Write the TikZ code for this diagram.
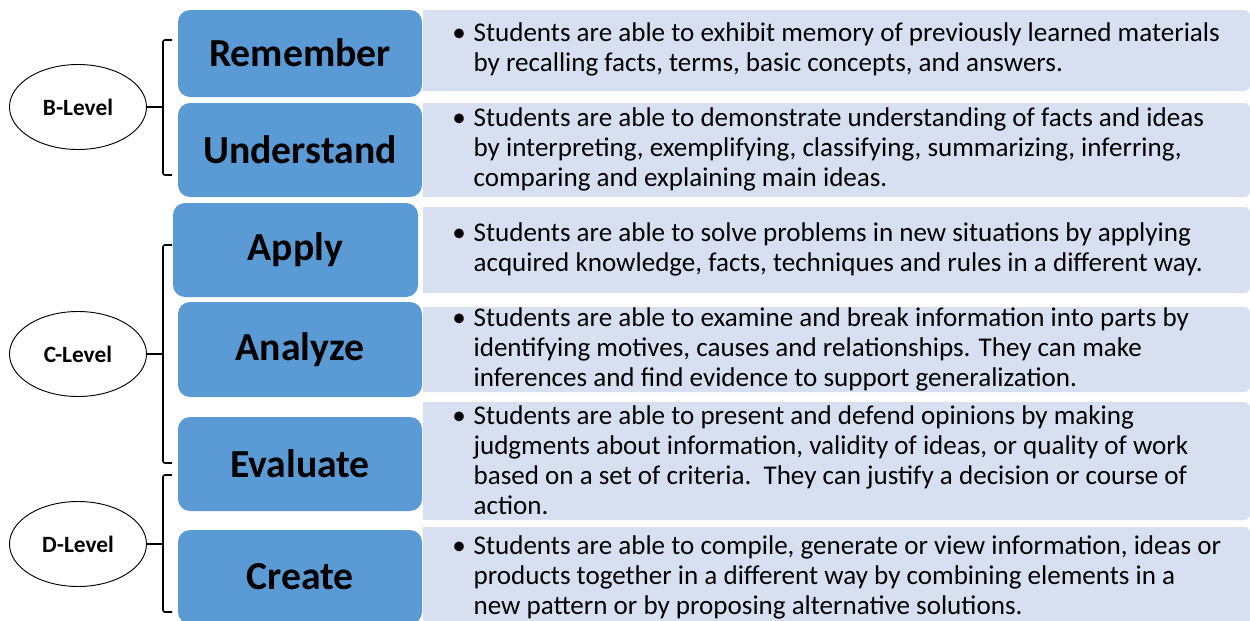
\documentclass[tikz,border=0pt]{standalone}
\usepackage{fontspec}
\setmainfont{Carlito}
\usetikzlibrary{shapes.geometric}
\definecolor{bluebox}{HTML}{5B9BD5}
\definecolor{palebox}{HTML}{D6E0F0}
\newcommand{\bulletline}{\makebox[16pt][l]{\textbullet}}
\tikzset{
  levelbox/.style={rectangle, rounded corners=9pt, fill=bluebox, inner sep=0pt,
    minimum width=183pt, font=\fontsize{29.8}{32}\selectfont\bfseries, text=black},
  descbox/.style={rectangle, rounded corners=4.5pt, fill=palebox, inner sep=0pt,
    minimum width=620.25pt},
  desctext/.style={anchor=west, inner sep=0pt, align=left,
    font=\fontsize{20.3}{22.5}\selectfont, text=black},
  levelell/.style={ellipse, draw=black, line width=0.7pt, fill=white, inner sep=0pt,
    minimum width=102.75pt, minimum height=63.75pt,
    font=\fontsize{17.5}{20}\selectfont\bfseries},
  brace/.style={draw=black, line width=1.2pt, rounded corners=1.5pt},
}
\begin{document}
\begin{tikzpicture}[x=0.75pt, y=-0.75pt]
\useasboundingbox (0,0) rectangle (1250,621);
\clip (0,0) rectangle (1250,621);
\fill[white] (0,0) rectangle (1250,621);

% pale description boxes
\node[descbox, minimum height=60.75pt] (d1) at (836.5,50.5) {};
\node[descbox, minimum height=70.5pt]  (d2) at (836.5,150) {};
\node[descbox, minimum height=64.5pt]  (d3) at (836.5,250) {};
\node[descbox, minimum height=63.75pt] (d4) at (836.5,349.5) {};
\node[descbox, minimum height=88.5pt]  (d5) at (836.5,461) {};
\node[descbox, minimum height=75.75pt] (d6) at (836.5,577.5) {};
\foreach \d in {d1,d2,d3,d4,d5,d6}{
  \fill[palebox] (\d.north west) rectangle ([xshift=10pt]\d.south west);
}

% blue level boxes
\node[levelbox, minimum height=65.25pt] (rem) at (300,53.5) {\raisebox{2pt}{Remember}};
\node[levelbox, minimum height=70.5pt]  (und) at (300,150) {Understand};
\node[levelbox, minimum height=70.5pt, minimum width=183.75pt] (app) at (295.5,250) {Apply};
\node[levelbox, minimum height=71.25pt] (ana) at (300,349.5) {Analyze};
\node[levelbox, minimum height=70.5pt]  (eva) at (300,464) {Evaluate};
\node[levelbox, minimum height=70.5pt]  (cre) at (300,577) {Create};

% descriptions
\node[desctext] (t1) at (452,50.5) {\begin{tabular}{@{}l@{}l@{}}
\bulletline & Students are able to exhibit memory of previously learned materials\\
 & by recalling facts, terms, basic concepts, and answers.
\end{tabular}};
\node[desctext] (t2) at (452,150.5) {\begin{tabular}{@{}l@{}l@{}}
\bulletline & Students are able to demonstrate understanding of facts and ideas\\
 & by interpreting, exemplifying, classifying, summarizing, inferring,\\
 & comparing and explaining main ideas.
\end{tabular}};
\node[desctext] (t3) at (452,250.5) {\begin{tabular}{@{}l@{}l@{}}
\bulletline & Students are able to solve problems in new situations by applying\\
 & acquired knowledge, facts, techniques and rules in a different way.
\end{tabular}};
\node[desctext] (t4) at (452,350) {\begin{tabular}{@{}l@{}l@{}}
\bulletline & Students are able to examine and break information into parts by\\
 & identifying motives, causes and relationships. They can make\\
 & inferences and find evidence to support generalization.
\end{tabular}};
\node[desctext] (t5) at (452,463.5) {\begin{tabular}{@{}l@{}l@{}}
\bulletline & Students are able to present and defend opinions by making\\
 & judgments about information, validity of ideas, or quality of work\\
 & based on a set of criteria.\ \ They can justify a decision or course of\\
 & action.
\end{tabular}};
\node[desctext] (t6) at (452,578) {\begin{tabular}{@{}l@{}l@{}}
\bulletline & Students are able to compile, generate or view information, ideas or\\
 & products together in a different way by combining elements in a\\
 & new pattern or by proposing alternative solutions.
\end{tabular}};

% level ellipses
\node[levelell] (bl) at (78,107) {B-Level};
\node[levelell] (cl) at (78,354) {C-Level};
\node[levelell] (dl) at (78,544) {D-Level};

% brackets
\coordinate (bt) at (172,40);  \coordinate (bb) at (172,175); \coordinate (bm) at (163,107);
\coordinate (ct) at (172,245); \coordinate (cb) at (172,463); \coordinate (cm) at (163,354);
\coordinate (dt) at (172,475); \coordinate (db) at (172,612); \coordinate (dm) at (163,544);
\draw[brace] (bt) -- (bm |- bt) -- (bm |- bb) -- (bb);
\draw[brace] (ct) -- (cm |- ct) -- (cm |- cb) -- (cb);
\draw[brace] (dt) -- (dm |- dt) -- (dm |- db) -- (db);
\draw[draw=black, line width=1.2pt] (bl.east) -- (bm);
\draw[draw=black, line width=1.2pt] (cl.east) -- (cm);
\draw[draw=black, line width=1.2pt] (dl.east) -- (dm);
\end{tikzpicture}
\end{document}
